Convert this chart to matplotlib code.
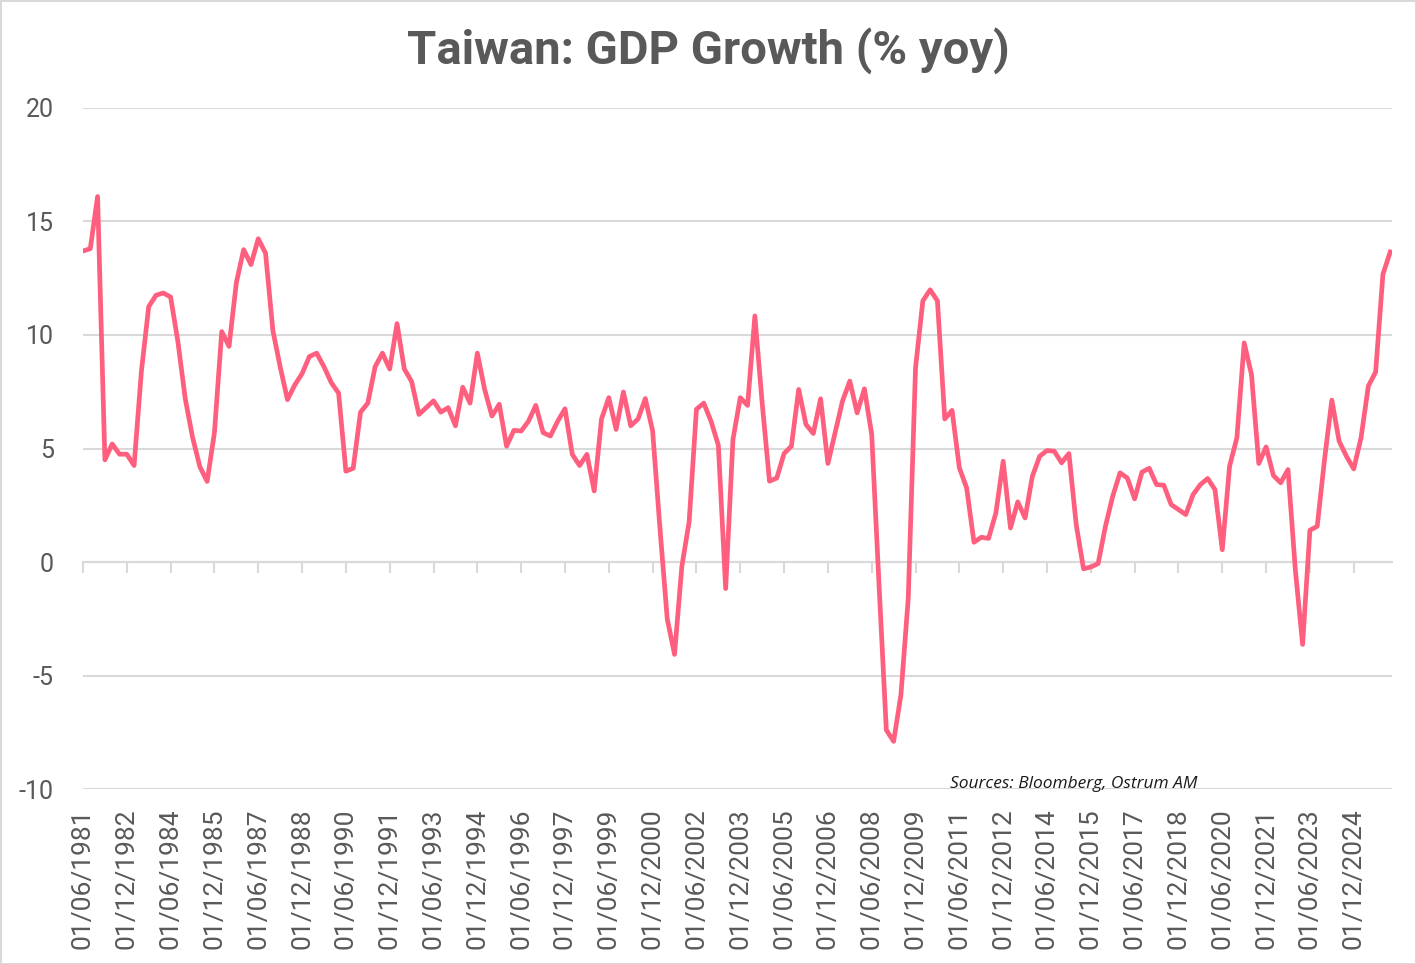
import matplotlib
matplotlib.use("Agg")
import matplotlib.pyplot as plt
import pandas as pd

plt.rcParams["axes.unicode_minus"] = False

# Taiwan real GDP, % yoy, quarterly from Q2 1981
dates = pd.date_range("1981-06-01", periods=180, freq="3MS")
gdp_yoy = [
    13.7, 13.8, 16.1, 4.5, 5.2, 4.75, 4.75, 4.25, 8.4, 11.25,
    11.75, 11.85, 11.67, 9.7, 7.2, 5.5, 4.2, 3.55, 5.7, 10.15,
    9.5, 12.3, 13.76, 13.1, 14.24, 13.6, 10.2, 8.6, 7.15, 7.8,
    8.3, 9.05, 9.2, 8.6, 7.9, 7.44, 4.0, 4.13, 6.6, 7.0,
    8.6, 9.2, 8.5, 10.5, 8.5, 7.95, 6.5, 6.8, 7.1, 6.6,
    6.8, 6.0, 7.7, 7.0, 9.2, 7.6, 6.43, 6.95, 5.1, 5.8,
    5.77, 6.2, 6.9, 5.7, 5.55, 6.2, 6.75, 4.74, 4.25, 4.74,
    3.13, 6.3, 7.24, 5.84, 7.49, 6.0, 6.3, 7.2, 5.77, 1.5,
    -2.5, -4.07, -0.2, 1.78, 6.73, 7.0, 6.2, 5.14, -1.17, 5.4,
    7.24, 6.9, 10.84, 7.0, 3.56, 3.7, 4.78, 5.1, 7.6, 6.06,
    5.66, 7.19, 4.34, 5.72, 7.09, 7.97, 6.57, 7.63, 5.62, -1.0,
    -7.4, -7.9, -5.85, -1.6, 8.56, 11.5, 11.99, 11.5, 6.3, 6.68,
    4.15, 3.26, 0.87, 1.09, 1.04, 2.16, 4.44, 1.5, 2.65, 1.94,
    3.78, 4.66, 4.91, 4.88, 4.37, 4.78, 1.65, -0.3, -0.22, -0.07,
    1.57, 2.9, 3.93, 3.7, 2.78, 3.96, 4.13, 3.41, 3.38, 2.53,
    2.31, 2.09, 2.97, 3.41, 3.68, 3.19, 0.54, 4.22, 5.47, 9.65,
    8.26, 4.34, 5.07, 3.81, 3.49, 4.07, -0.33, -3.63, 1.4, 1.57,
    4.51, 7.13, 5.32, 4.66, 4.1, 5.47, 7.75, 8.37, 12.68, 13.66,
]
y_ticks = [-10, -5, 0, 5, 10, 15, 20]
tick_step = 6

text_grey = "#595959"
grid_grey = "#D9D9D9"
line_col = "#FF5F7E"

fig = plt.figure(figsize=(14.16, 9.64), dpi=100)
fig.patch.set_edgecolor(grid_grey)
fig.patch.set_linewidth(2)
ax = fig.add_axes([0.0586, 0.1815, 0.9245, 0.7065])

x = list(range(len(gdp_yoy)))
ax.plot(x, gdp_yoy, color=line_col, lw=3.4, solid_joinstyle="round", zorder=3)

ax.set_xlim(0, len(gdp_yoy) - 0.75)
ax.set_ylim(-10, 20)
ax.set_yticks(y_ticks)
ax.yaxis.grid(True, color=grid_grey, lw=1.5)
ax.set_axisbelow(True)
for s in ["top", "right", "left"]:
    ax.spines[s].set_visible(False)

# axis line and tick marks sit on the zero line
ax.spines["bottom"].set_position(("data", 0))
ax.spines["bottom"].set_color(grid_grey)
ax.spines["bottom"].set_linewidth(1.5)
tick_pos = x[::tick_step]
ax.set_xticks(tick_pos)
ax.tick_params(axis="x", direction="out", length=8, width=1.5, color=grid_grey, labelbottom=False)
ax.tick_params(axis="y", length=0, pad=21, labelsize=18, labelcolor=text_grey)
for lab in ax.get_yticklabels():
    lab.set_fontfamily("Roboto")

# date labels at the bottom of the plot area
sec = ax.secondary_xaxis("bottom")
sec.set_xticks(tick_pos, [d.strftime("%d/%m/%Y") for d in dates[::tick_step]])
sec.spines["bottom"].set_visible(False)
sec.tick_params(length=0, pad=14, labelsize=19, labelcolor=text_grey, labelrotation=90)
for lab in sec.get_xticklabels():
    lab.set_fontfamily("Roboto")

fig.suptitle("Taiwan: GDP Growth (% yoy)", x=0.5, y=0.972, fontsize=34,
             fontweight="bold", color=text_grey, family="Roboto")
fig.text(0.671, 0.178, "Sources: Bloomberg, Ostrum AM", fontsize=12.5,
         style="italic", color="#1a1a1a", family=["Open Sans", "DejaVu Sans"],
         va="bottom")

fig.savefig("out.png", dpi=100)
